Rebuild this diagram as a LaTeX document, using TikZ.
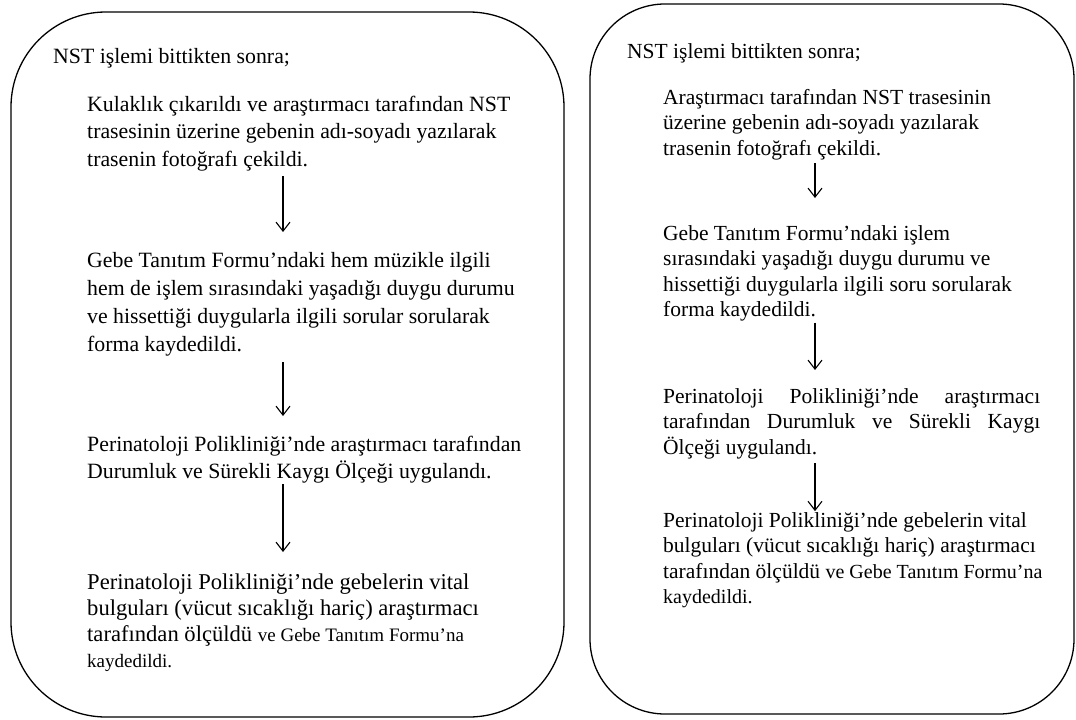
\documentclass[tikz,border=0pt]{standalone}
\usepackage{fontspec}
\setmainfont{Liberation Serif}
\usetikzlibrary{arrows.meta}
\tikzset{
  panel/.style={draw=black, line width=1.3pt},
  ltxt/.style={anchor=north west, inner sep=0pt, align=left,
    font=\fontsize{21.8}{27.7}\selectfont, execute at begin node=\strut, execute at end node=\strut},
  rtxt/.style={anchor=north west, inner sep=0pt, align=left,
    font=\fontsize{21.5}{25.5}\selectfont, execute at begin node=\strut, execute at end node=\strut},
  arr/.style={draw=black, line width=1.1pt, -{Straight Barb[length=9pt,width=14pt,line width=1.1pt]}},
}
\newcommand{\smallpartL}[1]{{\fontsize{19}{26}\selectfont #1}}
\newcommand{\smallpartR}[1]{{\fontsize{20}{25.5}\selectfont #1}}
\begin{document}
\begin{tikzpicture}[x=1pt,y=-1pt]
\useasboundingbox (0,0) rectangle (1076,720);
\fill[white] (0,0) rectangle (1076,720);
% panels
\draw[panel, rounded corners=95pt] (11,12) rectangle (564,717);
\draw[panel, rounded corners=75pt] (590,4) rectangle (1074,714);
% left column
\coordinate (la) at (283,0);
\node[ltxt] (l0) at (53,43.6) {NST işlemi bittikten sonra;};
\node[ltxt] (l1) at (87,95.6) {Kulaklık çıkarıldı ve araştırmacı tarafından NST\\trasesinin üzerine gebenin adı-soyadı yazılarak\\trasenin fotoğrafı çekildi.};
\node[ltxt] (l2) at (87,252.6) {Gebe Tanıtım Formu’ndaki hem müzikle ilgili\\hem de işlem sırasındaki yaşadığı duygu durumu\\ve hissettiği duygularla ilgili sorular sorularak\\forma kaydedildi.};
\node[ltxt] (l3) at (87,435.6) {Perinatoloji Polikliniği’nde araştırmacı tarafından\\Durumluk ve Sürekli Kaygı Ölçeği uygulandı.};
\node[ltxt, font=\fontsize{22.6}{26}\selectfont] (l4) at (87,573.8) {Perinatoloji Polikliniği’nde gebelerin vital\\bulguları (vücut sıcaklığı hariç) araştırmacı\\tarafından ölçüldü \smallpartL{ve Gebe Tanıtım Formu’na}\\\smallpartL{kaydedildi.}};
\draw[arr, shorten <=1.3pt, shorten >=20.6pt] (l1.south -| la) -- (l2.north -| la);
\draw[arr, shorten <=2.6pt, shorten >=19.6pt] (l2.south -| la) -- (l3.north -| la);
\draw[arr, line width=2pt, shorten <=-3pt, shorten >=21.8pt] (l3.south -| la) -- (l4.north -| la);
% right column
\coordinate (ra) at (815,0);
\node[rtxt] (r0) at (627,40.15) {NST işlemi bittikten sonra;};
\node[rtxt] (r1) at (663,89.15) {Araştırmacı tarafından NST trasesinin\\üzerine gebenin adı-soyadı yazılarak\\trasenin fotoğrafı çekildi.};
\node[rtxt] (r2) at (663,225.15) {Gebe Tanıtım Formu’ndaki işlem\\sırasındaki yaşadığı duygu durumu ve\\hissettiği duygularla ilgili soru sorularak\\forma kaydedildi.};
\node[rtxt, text width=377pt, align=justify] (r3) at (663,385.15) {Perinatoloji Polikliniği’nde araştırmacı\linebreak tarafından Durumluk ve Sürekli Kaygı\linebreak Ölçeği uygulandı.};
\node[rtxt] (r4) at (663,512.15) {Perinatoloji Polikliniği’nde gebelerin vital\\bulguları (vücut sıcaklığı hariç) araştırmacı\\tarafından ölçüldü \smallpartR{ve Gebe Tanıtım Formu’na}\\\smallpartR{kaydedildi.}};
\draw[arr, shorten <=0pt, shorten >=27.15pt] (r1.south -| ra) -- (r2.north -| ra);
\draw[arr, shorten <=-2pt, shorten >=15.15pt] (r2.south -| ra) -- (r3.north -| ra);
\draw[arr, shorten <=1.35pt, shorten >=1pt] (r3.south -| ra) -- (r4.north -| ra);
\end{tikzpicture}
\end{document}
